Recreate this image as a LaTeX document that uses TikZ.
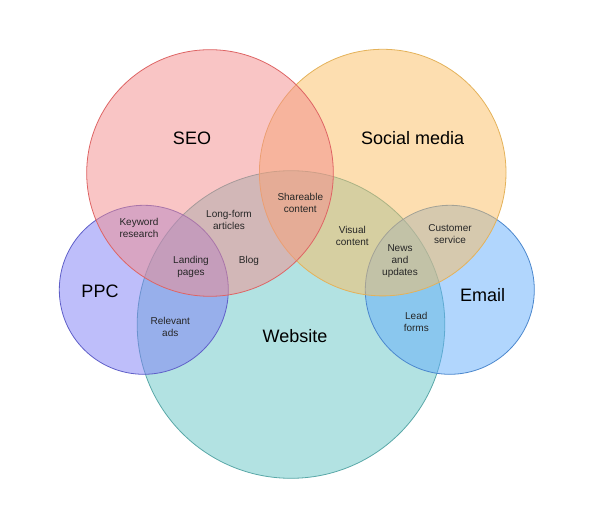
\documentclass[tikz,border=0pt]{standalone}
\usepackage{fontspec}
\setmainfont{Liberation Sans}
\usetikzlibrary{shapes.geometric, positioning}
\definecolor{seoFill}{RGB}{243,140,140}
\definecolor{seoLine}{RGB}{222,100,100}
\definecolor{socialFill}{RGB}{251,189,97}
\definecolor{socialLine}{RGB}{228,178,90}
\definecolor{webFill}{RGB}{101,197,197}
\definecolor{webLine}{RGB}{90,168,168}
\definecolor{ppcFill}{RGB}{125,125,245}
\definecolor{ppcLine}{RGB}{95,95,200}
\definecolor{emailFill}{RGB}{99,173,251}
\definecolor{emailLine}{RGB}{75,135,205}

\begin{document}
\begin{tikzpicture}[x=1pt, y=1pt, thin]
  % Define styles
  \tikzstyle{set} = [circle, inner sep=0pt, fill opacity=0.5, line width=0.8pt]
  \tikzstyle{bigset} = [set, minimum size=246.6pt]
  \tikzstyle{smallset} = [set, minimum size=169pt]
  \tikzstyle{title} = [font=\fontsize{18}{20}\selectfont, text=black]
  \tikzstyle{item} = [font=\fontsize{10}{12}\selectfont, align=center, text=black!85]

  \useasboundingbox (0,0) rectangle (600,514);

  % Place sets
  \node [set, minimum size=307.6pt, draw=webLine, fill=webFill] (website) at (291,189.5) {};
  \node [smallset, draw=ppcLine, fill=ppcFill] (ppc) at (143.8,224.2) {};
  \node [smallset, draw=emailLine, fill=emailFill] (email) at (449.8,224.2) {};
  \node [bigset, draw=socialLine, fill=socialFill] (social) at (382.7,341.4) {};
  \node [bigset, draw=seoLine, fill=seoFill] (seo) at (210,341) {};

  % Set names
  \node [title] (seoName) at (192,375.7) {SEO};
  \node [title] (socialName) at (412.7,375.7) {Social media};
  \node [title] (websiteName) at (295,178) {Website};
  \node [title] (ppcName) at (100,222.3) {PPC};
  \node [title] (emailName) at (482.7,219) {Email};

  % Overlap labels
  \node [item] (keyword) at (139,285.7) {Keyword\\research};
  \node [item] (longForm) at (229,294) {Long-form\\articles};
  \node [item] (shareable) at (300.3,310.7) {Shareable\\content};
  \node [item] (landing) at (191,247.3) {Landing\\pages};
  \node [item] (blog) at (249,253) {Blog};
  \node [item] (visual) at (352.3,278.3) {Visual\\content};
  \node [item] (customer) at (450,279.7) {Customer\\service};
  \node [item] (news) at (400,253) {News\\and\\updates};
  \node [item] (relevantAds) at (170.3,186.7) {Relevant\\ads};
  \node [item] (leadForms) at (416.3,192.3) {Lead\\forms};
\end{tikzpicture}
\end{document}
